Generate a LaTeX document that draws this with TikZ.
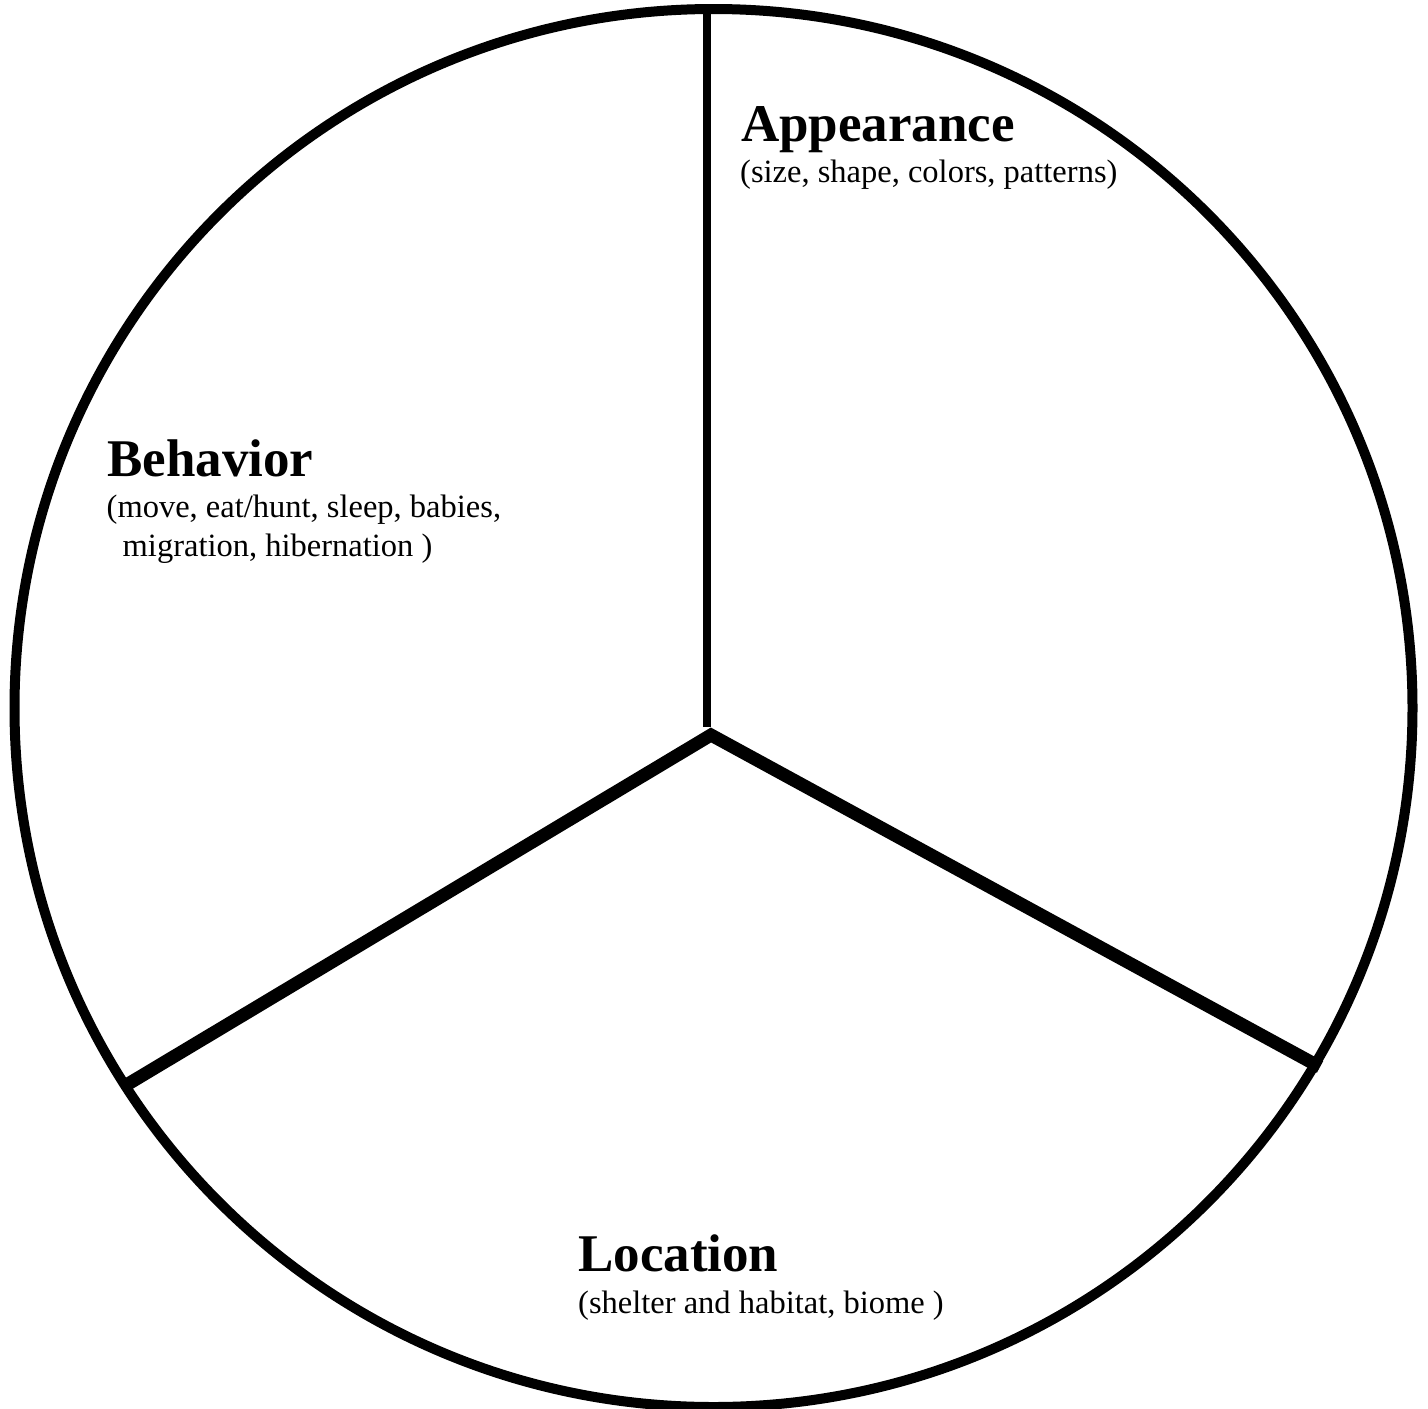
\documentclass[tikz,border=0pt]{standalone}
\usepackage{fontspec}
\setmainfont{Liberation Serif}
\tikzset{
  rim/.style={line width=10pt},
  thinspoke/.style={line width=8pt},
  thickspoke/.style={line width=13pt},
  title/.style={anchor=base west, inner sep=0pt, font=\fontsize{53}{57}\selectfont\bfseries},
  sub/.style={anchor=base west, inner sep=0pt, align=left, font=\fontsize{32.5}{39.4}\selectfont},
}
\begin{document}
\begin{tikzpicture}[x=1pt,y=-1pt]
\useasboundingbox (0,0) rectangle (1428,1409);
\fill[white] (0,0) rectangle (1428,1409);
\coordinate (C) at (713.5,708);
\coordinate (O) at (711,735);
\coordinate (Ov) at (707,727);
\coordinate (Top) at (707,12);
\coordinate (Lend) at (128,1084);
\coordinate (Rend) at (1320,1067);
\draw[rim] (C) circle (699);
\draw[thinspoke] (Top) -- (Ov);
\draw[thickspoke] (Lend) -- (O) -- (Rend);
\node[title] (app) at (741,141.7) {Appearance};
\node[sub] (appsub) at (740,182.7) {(size, shape, colors, patterns)};
\node[title] (beh) at (107,476.7) {Behavior};
\node[sub] (behsub) at (106.5,556.7) {(move, eat/hunt, sleep, babies,\\\hspace{16pt}migration, hibernation )};
\node[title] (loc) at (578,1271) {Location};
\node[sub] (locsub) at (578,1313.3) {(shelter and habitat, biome )};
\end{tikzpicture}
\end{document}
